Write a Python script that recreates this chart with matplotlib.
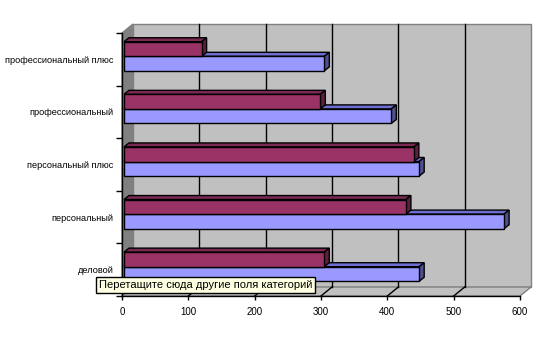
import numpy as np
import matplotlib.pyplot as plt
from matplotlib.patches import Polygon
from matplotlib.transforms import offset_copy

categories = ["деловой", "персональный", "персональный плюс", "профессиональный", "профессиональный плюс"]
series_blue = [445, 573, 445, 403, 302]
series_red = [302, 425, 437, 296, 117]
xticks = [0, 100, 200, 300, 400, 500, 600]

plt.rcParams['font.family'] = ['Liberation Sans', 'DejaVu Sans']

fig = plt.figure(figsize=(5.39, 3.47), dpi=100)
W, H = 539, 347
ax = fig.add_axes([122 / W, (H - 296) / H, (520 - 122) / W, (296 - 33) / H])
ax.set_xlim(0, 600)
ax.set_ylim(-0.5, 4.5)
ax.patch.set_visible(False)
for s in ax.spines.values():
    s.set_visible(False)

# wall depth in pixels
wdx, wdy = 11, 9
back = offset_copy(ax.transData, fig=fig, x=wdx, y=wdy, units='dots')

# back wall
ax.add_patch(Polygon([(0, -0.5), (600, -0.5), (600, 4.5), (0, 4.5)], closed=True,
                     transform=back, facecolor='#C0C0C0', edgecolor='#808080', lw=1,
                     zorder=0, clip_on=False))
# floor
p0 = ax.transData.transform([(0, -0.5), (600, -0.5)])
floor = [tuple(p0[0]), tuple(p0[1]), (p0[1][0] + wdx, p0[1][1] + wdy), (p0[0][0] + wdx, p0[0][1] + wdy)]
ax.add_patch(Polygon(floor, closed=True, transform=None, facecolor='#C0C0C0',
                     edgecolor='#808080', lw=1, zorder=0.5, clip_on=False))
# side wall
p1 = ax.transData.transform([(0, -0.5), (0, 4.5)])
side = [tuple(p1[0]), tuple(p1[1]), (p1[1][0] + wdx, p1[1][1] + wdy), (p1[0][0] + wdx, p1[0][1] + wdy)]
ax.add_patch(Polygon(side, closed=True, transform=None, facecolor='#808080',
                     edgecolor='#808080', lw=1, zorder=0.5, clip_on=False))

# gridlines on back wall and floor
for v in xticks[1:-1]:
    ax.plot([v, v], [-0.5, 4.5], transform=back, color='black', lw=1, zorder=1, clip_on=False)
    a = ax.transData.transform((v, -0.5))
    ax.plot([a[0], a[0] + wdx], [a[1], a[1] + wdy], transform=None, color='black', lw=1,
            zorder=1, clip_on=False)

# bars
bh = 0.277
y = np.arange(len(categories))
bdx, bdy = 5, 4
front = offset_copy(ax.transData, fig=fig, x=2, y=3, units='dots')

def bar3d(ypos, vals, color, top_c, side_c):
    bars = ax.barh(ypos, vals, height=bh, color=color, edgecolor='black', lw=1,
                   transform=front, zorder=3)
    for b in bars:
        b.set_clip_on(False)
    for yy, v in zip(ypos, vals):
        pts = front.transform([(0, yy - bh / 2), (v, yy - bh / 2), (v, yy + bh / 2), (0, yy + bh / 2)])
        top = [pts[3], pts[2], pts[2] + [bdx, bdy], pts[3] + [bdx, bdy]]
        rs = [pts[1], pts[2], pts[2] + [bdx, bdy], pts[1] + [bdx, bdy]]
        ax.add_patch(Polygon(top, closed=True, transform=None, facecolor=top_c,
                             edgecolor='black', lw=1, zorder=2.5, clip_on=False))
        ax.add_patch(Polygon(rs, closed=True, transform=None, facecolor=side_c,
                             edgecolor='black', lw=1, zorder=2.5, clip_on=False))
    return bars

bar3d(y - bh / 2, series_blue, '#9999FF', '#6E6ED2', '#50508F')
bar3d(y + bh / 2, series_red, '#993366', '#7A2952', '#5C1F3E')

# axes lines
ax.plot([0, 0], [-0.5, 4.5], color='black', lw=1, zorder=4, clip_on=False)
ax.plot([0, 600], [-0.5, -0.5], color='black', lw=1, zorder=4, clip_on=False)

ax.set_yticks(y)
ax.set_yticklabels(categories, fontsize=6.6)
ax.set_yticks(np.arange(-0.5, 5, 1), minor=True)
ax.tick_params(axis='y', which='major', length=0, pad=6)
ax.tick_params(axis='y', which='minor', length=4, width=1, color='black')
ax.set_xticks(xticks)
ax.set_xticklabels([str(v) for v in xticks], fontsize=7)
ax.tick_params(axis='x', length=3, width=1, color='black', pad=5)

# tooltip
fig.text(99 / W, 1 - 285 / H, "Перетащите сюда другие поля категорий", fontsize=8,
         va='center', ha='left',
         bbox=dict(boxstyle='square,pad=0.25', facecolor='#FFFFE1', edgecolor='black', lw=1),
         zorder=10)

fig.savefig('out.png', dpi=100)
